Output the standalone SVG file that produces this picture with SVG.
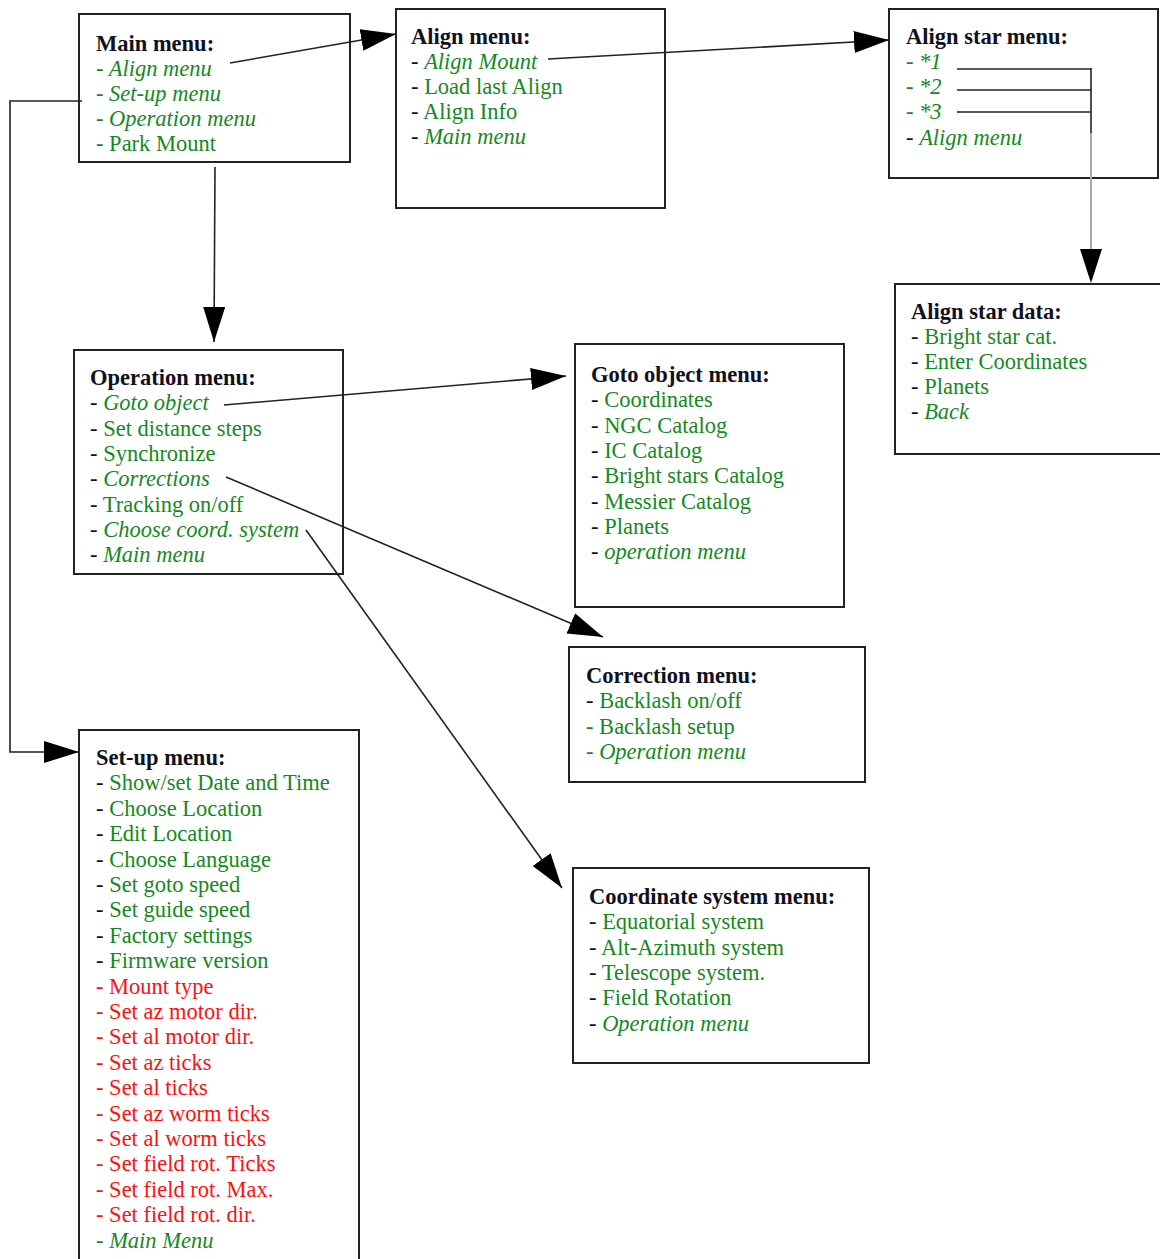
<svg xmlns="http://www.w3.org/2000/svg" width="1160" height="1259" viewBox="0 0 1160 1259">
<defs>
<marker id="ah" markerUnits="userSpaceOnUse" markerWidth="36" markerHeight="24" refX="35" refY="11" orient="auto">
<path d="M0,0 L35,11 L0,22 z" fill="#000"/>
</marker>
<style>
.box{fill:#fff;stroke:#222;stroke-width:2}
text{font-family:"Liberation Serif","Times New Roman",serif;font-size:22.5px;fill:#138a1e}
.t{font-weight:bold;fill:#10101e}
.i{font-style:italic}
.k{fill:#111}
.r{fill:#ff1010}
.c{fill:none;stroke:#222;stroke-width:1.6}
</style>
</defs>
<rect width="1160" height="1259" fill="#fff"/>

<g id="main-menu">
<rect class="box" x="79" y="14" width="271" height="148"/>
<text x="96" y="51"><tspan class="t">Main menu:</tspan>
<tspan x="96" dy="25" class="i">- Align menu</tspan>
<tspan x="96" dy="25" class="i">- Set-up menu</tspan>
<tspan x="96" dy="25" class="i">- Operation menu</tspan>
<tspan x="96" dy="25">- Park Mount</tspan></text>
</g>

<g id="align-menu">
<rect class="box" x="396" y="9" width="269" height="199"/>
<text x="411" y="44"><tspan class="t">Align menu:</tspan>
<tspan x="411" dy="25"><tspan class="k">- </tspan><tspan class="i">Align Mount</tspan></tspan>
<tspan x="411" dy="25"><tspan class="k">- </tspan>Load last Align</tspan>
<tspan x="411" dy="25"><tspan class="k">- </tspan>Align Info</tspan>
<tspan x="411" dy="25"><tspan class="k">- </tspan><tspan class="i">Main menu</tspan></tspan></text>
</g>

<g id="align-star-menu">
<rect class="box" x="889" y="9" width="269" height="169"/>
<text x="906" y="44"><tspan class="t">Align star menu:</tspan>
<tspan x="906" dy="25" class="i">- *1</tspan>
<tspan x="906" dy="25" class="i">- *2</tspan>
<tspan x="906" dy="25" class="i">- *3</tspan>
<tspan x="906" dy="26"><tspan class="k">- </tspan><tspan class="i">Align menu</tspan></tspan></text>
</g>

<g id="align-star-data">
<rect class="box" x="895" y="284" width="270" height="170"/>
<text x="911" y="319"><tspan class="t">Align star data:</tspan>
<tspan x="911" dy="25"><tspan class="k">- </tspan>Bright star cat.</tspan>
<tspan x="911" dy="25"><tspan class="k">- </tspan>Enter Coordinates</tspan>
<tspan x="911" dy="25"><tspan class="k">- </tspan>Planets</tspan>
<tspan x="911" dy="25"><tspan class="k">- </tspan><tspan class="i">Back</tspan></tspan></text>
</g>

<g id="operation-menu">
<rect class="box" x="74" y="350" width="269" height="224"/>
<text x="90" y="385"><tspan class="t">Operation menu:</tspan>
<tspan x="90" dy="25.3"><tspan class="k">- </tspan><tspan class="i">Goto object</tspan></tspan>
<tspan x="90" dy="25.3"><tspan class="k">- </tspan>Set distance steps</tspan>
<tspan x="90" dy="25.3"><tspan class="k">- </tspan>Synchronize</tspan>
<tspan x="90" dy="25.3"><tspan class="k">- </tspan><tspan class="i">Corrections</tspan></tspan>
<tspan x="90" dy="25.3"><tspan class="k">- </tspan>Tracking on/off</tspan>
<tspan x="90" dy="25.3"><tspan class="k">- </tspan><tspan class="i">Choose coord. system</tspan></tspan>
<tspan x="90" dy="25.3"><tspan class="k">- </tspan><tspan class="i">Main menu</tspan></tspan></text>
</g>

<g id="goto-object-menu">
<rect class="box" x="575" y="344" width="269" height="263"/>
<text x="591" y="382"><tspan class="t">Goto object menu:</tspan>
<tspan x="591" dy="25.3"><tspan class="k">- </tspan>Coordinates</tspan>
<tspan x="591" dy="25.3"><tspan class="k">- </tspan>NGC Catalog</tspan>
<tspan x="591" dy="25.3"><tspan class="k">- </tspan>IC Catalog</tspan>
<tspan x="591" dy="25.3"><tspan class="k">- </tspan>Bright stars Catalog</tspan>
<tspan x="591" dy="25.3"><tspan class="k">- </tspan>Messier Catalog</tspan>
<tspan x="591" dy="25.3"><tspan class="k">- </tspan>Planets</tspan>
<tspan x="591" dy="25.3"><tspan class="k">- </tspan><tspan class="i">operation menu</tspan></tspan></text>
</g>

<g id="correction-menu">
<rect class="box" x="569" y="647" width="296" height="135"/>
<text x="586" y="683"><tspan class="t">Correction menu:</tspan>
<tspan x="586" dy="25.3"><tspan class="k">- </tspan>Backlash on/off</tspan>
<tspan x="586" dy="25.3">- Backlash setup</tspan>
<tspan x="586" dy="25.3">- <tspan class="i">Operation menu</tspan></tspan></text>
</g>

<g id="coordinate-system-menu">
<rect class="box" x="573" y="868" width="296" height="195"/>
<text x="589" y="904"><tspan class="t">Coordinate system menu:</tspan>
<tspan x="589" dy="25.3"><tspan class="k">- </tspan>Equatorial system</tspan>
<tspan x="589" dy="25.3"><tspan class="k">- </tspan>Alt-Azimuth system</tspan>
<tspan x="589" dy="25.3"><tspan class="k">- </tspan>Telescope system.</tspan>
<tspan x="589" dy="25.3"><tspan class="k">- </tspan>Field Rotation</tspan>
<tspan x="589" dy="25.3"><tspan class="k">- </tspan><tspan class="i">Operation menu</tspan></tspan></text>
</g>

<g id="set-up-menu">
<rect class="box" x="79" y="730" width="280" height="540"/>
<text x="96" y="765"><tspan class="t">Set-up menu:</tspan>
<tspan x="96" dy="25.4"><tspan class="k">- </tspan>Show/set Date and Time</tspan>
<tspan x="96" dy="25.4"><tspan class="k">- </tspan>Choose Location</tspan>
<tspan x="96" dy="25.4"><tspan class="k">- </tspan>Edit Location</tspan>
<tspan x="96" dy="25.4"><tspan class="k">- </tspan>Choose Language</tspan>
<tspan x="96" dy="25.4"><tspan class="k">- </tspan>Set goto speed</tspan>
<tspan x="96" dy="25.4"><tspan class="k">- </tspan>Set guide speed</tspan>
<tspan x="96" dy="25.4"><tspan class="k">- </tspan>Factory settings</tspan>
<tspan x="96" dy="25.4"><tspan class="k">- </tspan>Firmware version</tspan>
<tspan x="96" dy="25.4" class="r">- Mount type</tspan>
<tspan x="96" dy="25.4" class="r">- Set az motor dir.</tspan>
<tspan x="96" dy="25.4" class="r">- Set al motor dir.</tspan>
<tspan x="96" dy="25.4" class="r">- Set az ticks</tspan>
<tspan x="96" dy="25.4" class="r">- Set al ticks</tspan>
<tspan x="96" dy="25.4" class="r">- Set az worm ticks</tspan>
<tspan x="96" dy="25.4" class="r">- Set al worm ticks</tspan>
<tspan x="96" dy="25.4" class="r">- Set field rot. Ticks</tspan>
<tspan x="96" dy="25.4" class="r">- Set field rot. Max.</tspan>
<tspan x="96" dy="25.4" class="r">- Set field rot. dir.</tspan>
<tspan x="96" dy="25.4">- <tspan class="i">Main Menu</tspan></tspan></text>
</g>

<g id="connectors">
<line class="c" x1="230" y1="63" x2="396" y2="34" marker-end="url(#ah)"/>
<line class="c" x1="548" y1="59" x2="889" y2="40" marker-end="url(#ah)"/>
<line class="c" x1="957" y1="69" x2="1091" y2="69"/>
<line class="c" x1="957" y1="90" x2="1091" y2="90"/>
<line class="c" x1="957" y1="112" x2="1091" y2="112"/>
<line class="c" x1="1091" y1="68" x2="1091" y2="133"/>
<line x1="1091" y1="133" x2="1091" y2="255" stroke="#aaa" stroke-width="2"/>
<path d="M1080,249 L1102,249 L1091,283 z" fill="#000"/>
<line class="c" x1="215" y1="167" x2="214" y2="342" marker-end="url(#ah)"/>
<polyline class="c" points="82,101 10,101 10,752 79,752" marker-end="url(#ah)"/>
<line class="c" x1="224" y1="405" x2="566" y2="376" marker-end="url(#ah)"/>
<line class="c" x1="226" y1="477" x2="603" y2="637" marker-end="url(#ah)"/>
<line class="c" x1="306" y1="530" x2="562" y2="888" marker-end="url(#ah)"/>
</g>
</svg>
